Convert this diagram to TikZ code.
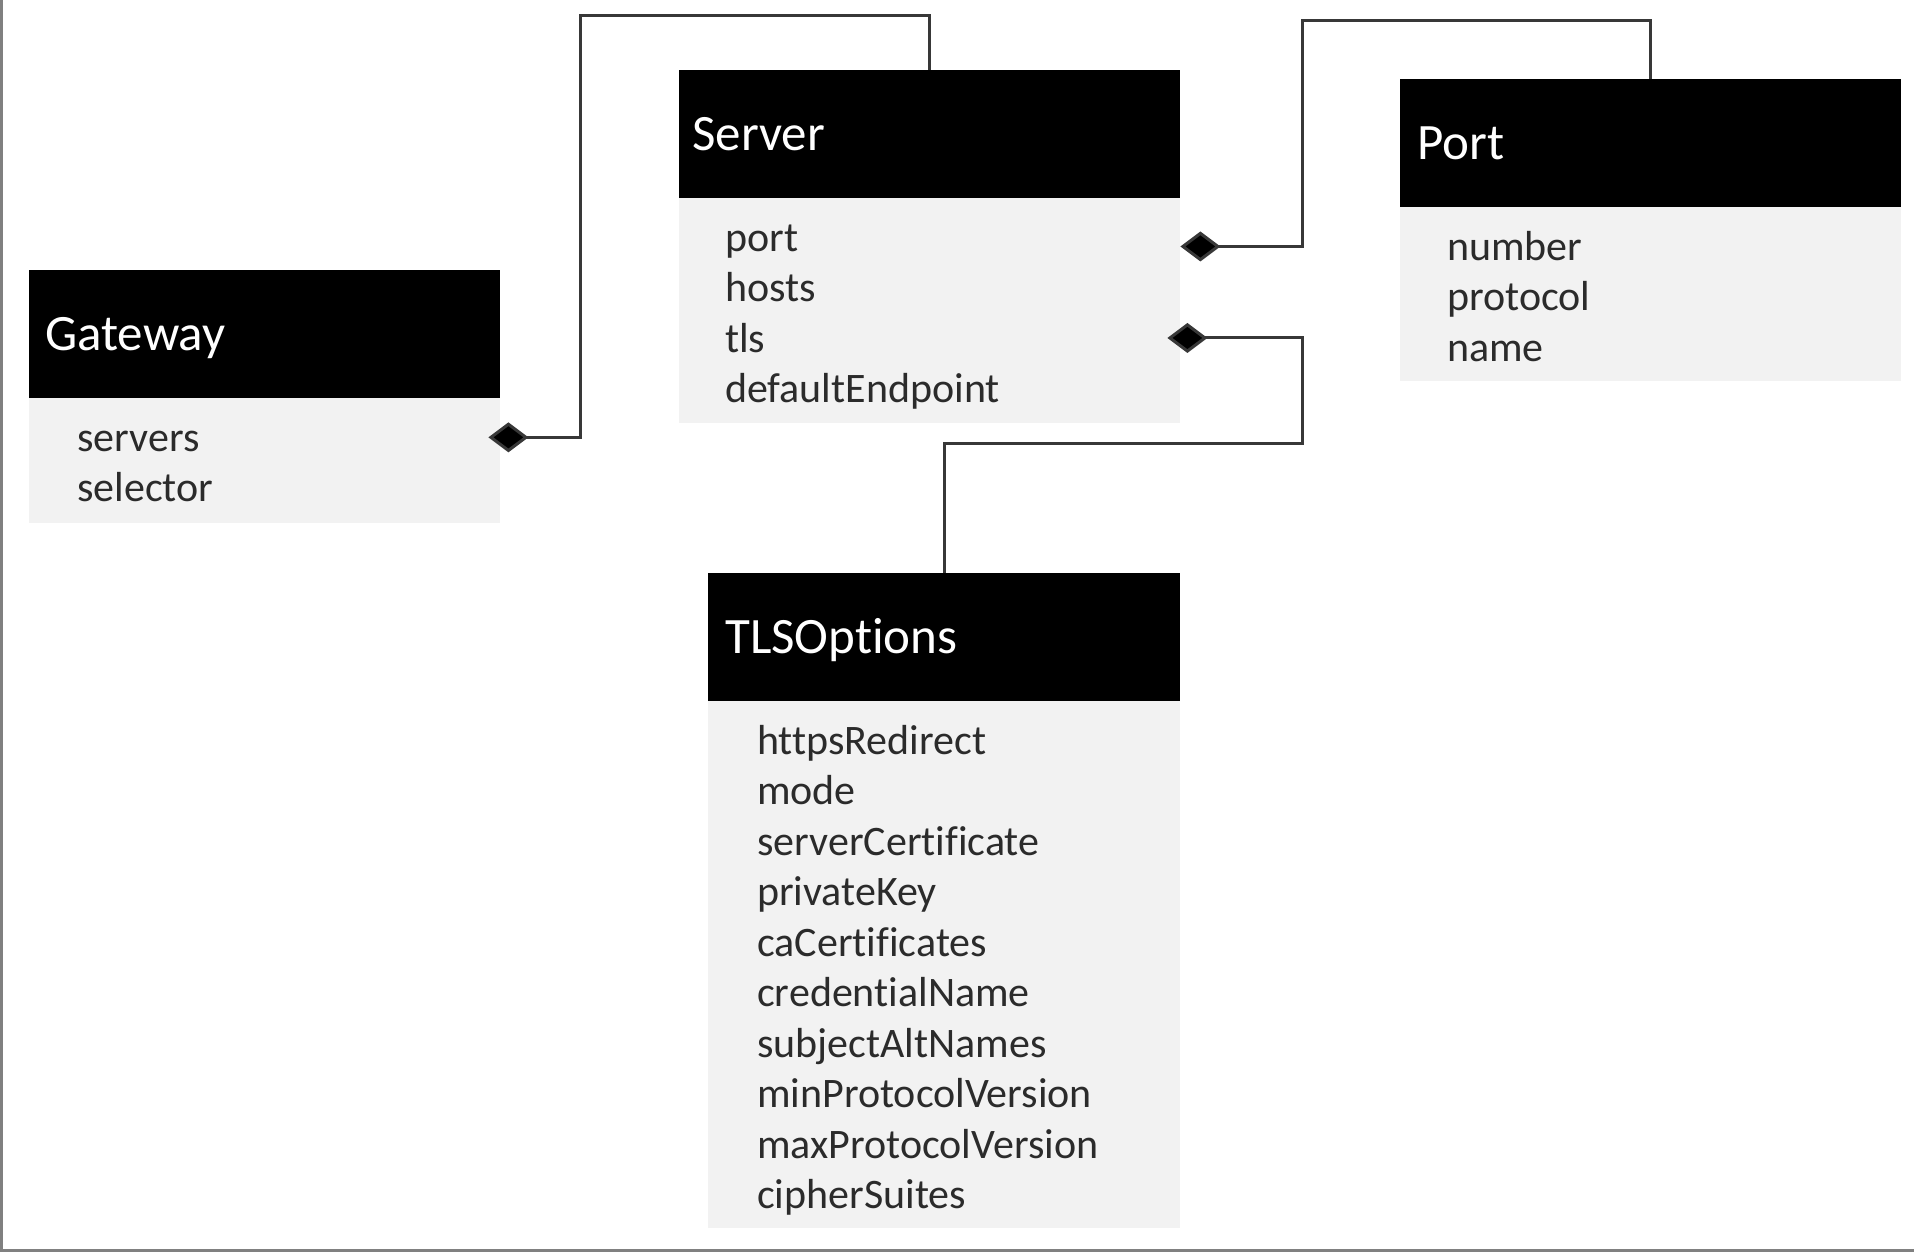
\documentclass[tikz,border=0pt]{standalone}
\usepackage{fontspec}
\setmainfont{Carlito}[Ligatures=NoCommon]
\usetikzlibrary{arrows.meta}

\definecolor{bodygray}{HTML}{F2F2F2}
\definecolor{textgray}{HTML}{2B2B2B}
\definecolor{framegray}{HTML}{808080}
\definecolor{linegray}{HTML}{383838}

\tikzset{
  headbox/.style={fill=black, anchor=north west, inner sep=0pt, minimum height=128pt},
  bodybox/.style={fill=bodygray, anchor=north west, inner sep=0pt},
  classname/.style={anchor=base west, inner sep=0pt, text=white, font=\fontsize{51pt}{61pt}\selectfont},
  attr/.style={anchor=mid west, inner sep=0pt, text=textgray, font=\fontsize{42pt}{50pt}\selectfont},
  comp/.style={draw=linegray, line width=3pt, {Diamond[length=40pt,width=30pt,fill=black]}-}
}

\begin{document}
\begin{tikzpicture}[x=1pt,y=-1pt]
\useasboundingbox (0,0) rectangle (1914,1252);
% frame
\draw[framegray, line width=3pt] (1.5,0) -- (1.5,1250.5) -- (1914,1250.5);

% Gateway
\node[headbox, minimum width=471pt] (gw) at (29,270) {};
\node[bodybox, minimum width=471pt, minimum height=125pt] (gw-body) at (29,398) {};
\node[classname] (gw-title) at ([xshift=16pt,yshift=-16pt]gw.west) {Gateway};
\foreach \item [count=\i] in {servers,selector}
  \node[attr] (gw-\item) at (77,{398+51+50.5*(\i-1)}) {\item};

% Server
\node[headbox, minimum width=501pt] (srv) at (679,70) {};
\node[bodybox, minimum width=501pt, minimum height=225pt] (srv-body) at (679,198) {};
\node[classname] (srv-title) at ([xshift=13pt,yshift=-16pt]srv.west) {Server};
\foreach \item [count=\i] in {port,hosts,tls,defaultEndpoint}
  \node[attr] (srv-\item) at (725,{198+51+50.5*(\i-1)}) {\item};

% Port
\node[headbox, minimum width=501pt] (prt) at (1400,79) {};
\node[bodybox, minimum width=501pt, minimum height=174pt] (prt-body) at (1400,207) {};
\node[classname] (prt-title) at ([xshift=17pt,yshift=-16pt]prt.west) {Port};
\foreach \item [count=\i] in {number,protocol,name}
  \node[attr] (prt-\item) at (1447,{207+51+50.5*(\i-1)}) {\item};

% TLSOptions
\node[headbox, minimum width=472pt] (tlso) at (708,573) {};
\node[bodybox, minimum width=472pt, minimum height=527pt] (tlso-body) at (708,701) {};
\node[classname] (tlso-title) at ([xshift=17pt,yshift=-16pt]tlso.west) {TLSOptions};
\foreach \item [count=\i] in {httpsRedirect,mode,serverCertificate,privateKey,caCertificates,credentialName,subjectAltNames,minProtocolVersion,maxProtocolVersion,cipherSuites}
  \node[attr] (tlso-\item) at (757,{701+51+50.5*(\i-1)}) {\item};

% composition links
\coordinate (gw-bend) at (580,16);
\coordinate (prt-bend) at (1302,21);
\coordinate (tlso-bend) at (1302,443);
\draw[comp] ([xshift=-12pt,yshift=4pt]gw-body.east |- gw-servers) -| (gw-bend) -| (srv.north);
\draw[comp] ([yshift=-5pt]srv-body.east |- srv-port) -| (prt-bend) -| (prt.north);
\draw[comp] ([xshift=-13pt]srv-body.east |- srv-tls) -| (tlso-bend) -| (tlso.north);
\end{tikzpicture}
\end{document}
